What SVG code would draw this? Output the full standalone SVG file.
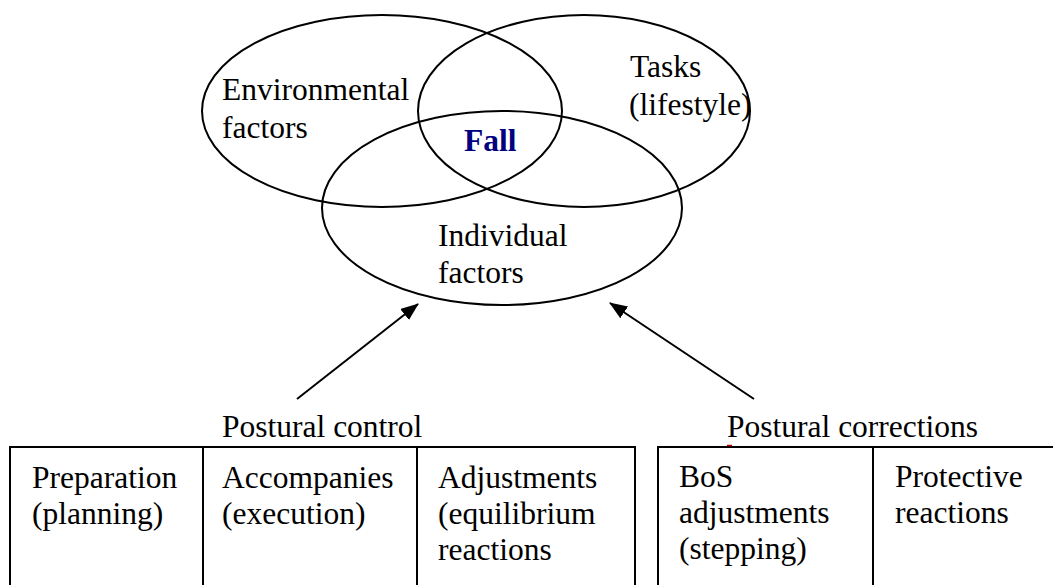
<svg xmlns="http://www.w3.org/2000/svg" width="1053" height="585" viewBox="0 0 1053 585">
<defs>
<style>
text{font-family:'Liberation Serif',Tinos,'Times New Roman',Times,serif;font-size:31.5px;fill:#000}
.fall{font-weight:bold;fill:#000080}
.shape{fill:none;stroke:#000;stroke-width:2}
.ln{stroke:#000;stroke-width:2;fill:none}
</style>
<marker id="ah" markerWidth="18" markerHeight="14" refX="17" refY="7" orient="auto" markerUnits="userSpaceOnUse" viewBox="0 0 18 14">
<path d="M0,0 L18,7 L0,14 z" fill="#000"/>
</marker>
</defs>
<rect width="1053" height="585" fill="#fff"/>
<g id="env">
<ellipse class="shape" cx="382" cy="111" rx="180" ry="96"/>
<text x="222" y="100" font-family="Liberation Serif">Environmental</text>
<text x="222" y="138">factors</text>
</g>
<g id="tasks">
<ellipse class="shape" cx="584" cy="111" rx="166" ry="96"/>
<text x="630" y="77">Tasks</text>
<text x="629" y="115">(lifestyle)</text>
</g>
<g id="individual">
<ellipse class="shape" cx="502" cy="208" rx="180" ry="97"/>
<text x="438" y="246">Individual</text>
<text x="438" y="283">factors</text>
</g>
<g id="fall">
<text class="fall" x="464" y="151">Fall</text>
</g>
<g id="connectors">
<line class="ln" x1="297" y1="399" x2="418" y2="304" marker-end="url(#ah)"/>
<line class="ln" x1="754" y1="399" x2="610" y2="303" marker-end="url(#ah)"/>
</g>
<g id="postural-control">
<text x="222" y="437">Postural control</text>
<path class="ln" d="M10,585 V447 H635 V585 M203,447 V585 M417,447 V585"/>
<text x="32" y="488">Preparation</text>
<text x="32" y="524">(planning)</text>
<text x="222" y="488">Accompanies</text>
<text x="222" y="524">(execution)</text>
<text x="438" y="488">Adjustments</text>
<text x="438" y="524">(equilibrium</text>
<text x="438" y="560">reactions</text>
</g>
<g id="postural-corrections">
<text x="727" y="437">Postural corrections</text>
<path class="ln" d="M658,585 V447 H1053 M873,447 V585"/>
<line x1="727" y1="445.5" x2="732" y2="445.5" stroke="#c00000" stroke-width="1.5"/>
<text x="679" y="487">BoS</text>
<text x="679" y="523">adjustments</text>
<text x="679" y="559">(stepping)</text>
<text x="895" y="487">Protective</text>
<text x="895" y="523">reactions</text>
</g>
</svg>
